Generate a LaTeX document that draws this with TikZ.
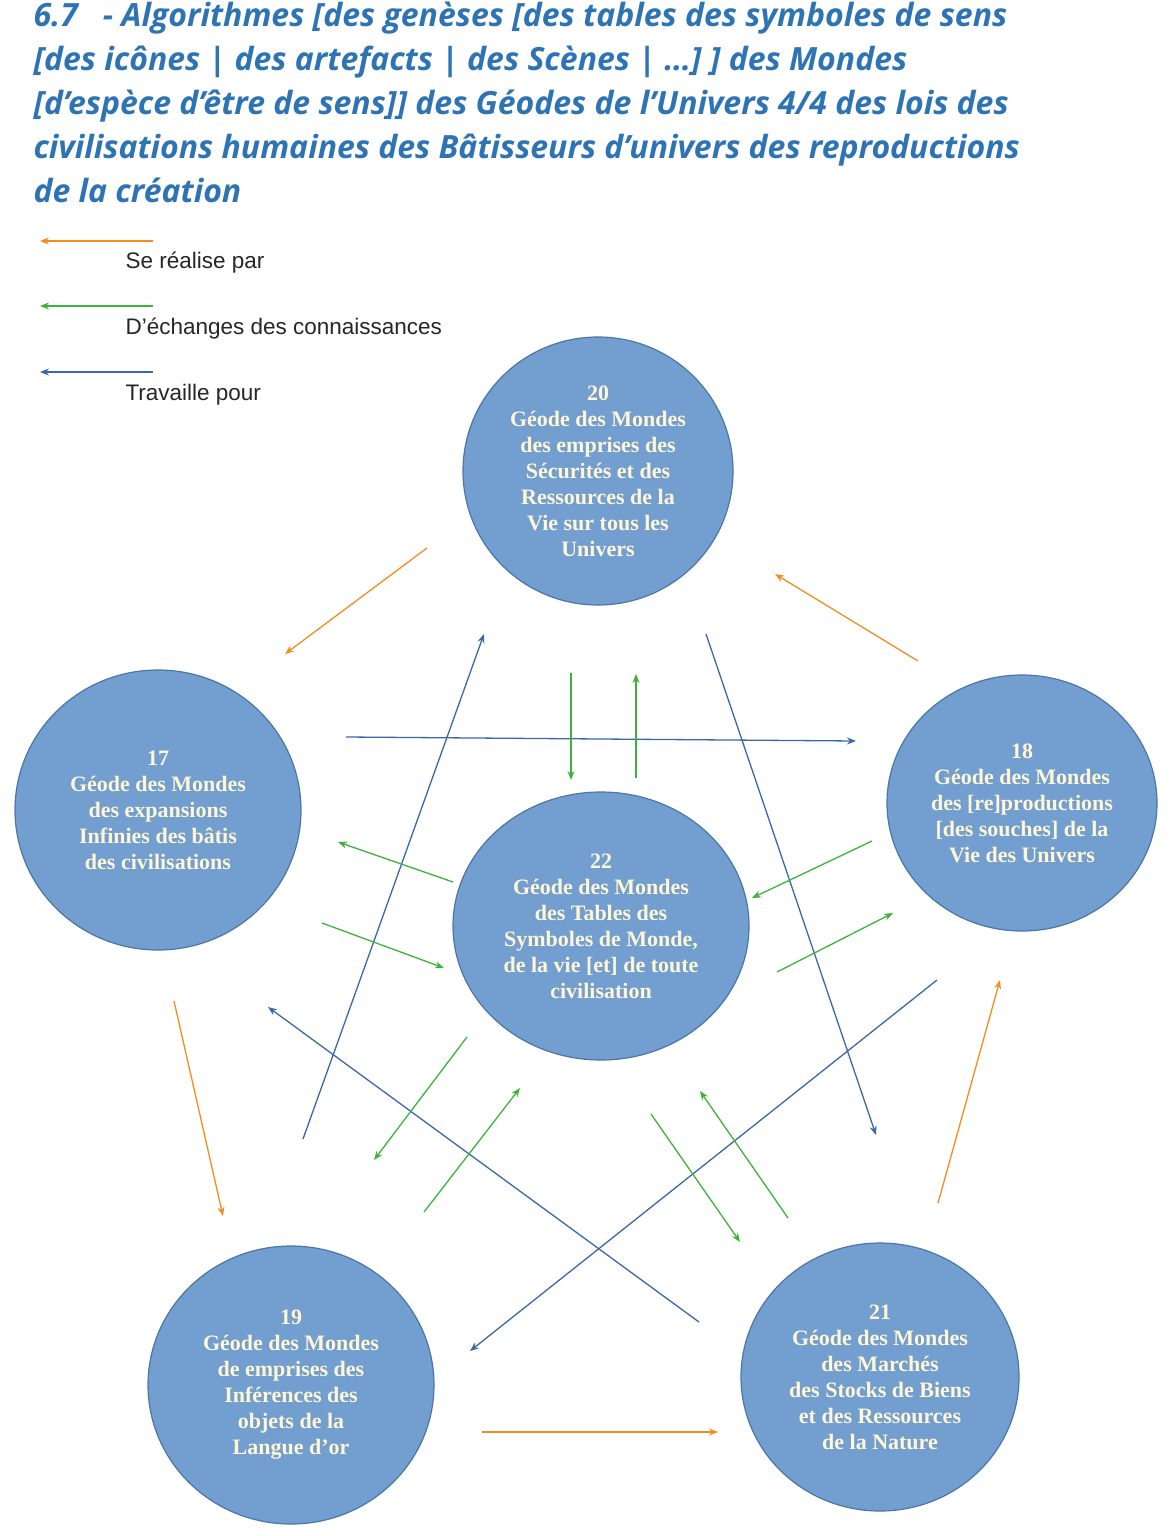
\documentclass[tikz,border=0pt]{standalone}
\usepackage{fontspec}
\setmainfont{Liberation Serif}
\setsansfont{Liberation Sans}
\newfontfamily\titlefont{Open Sans}
\usetikzlibrary{shapes.geometric,arrows.meta}
\definecolor{ttl}{HTML}{2E74B5}
\definecolor{cfill}{HTML}{729FCF}
\definecolor{cdraw}{HTML}{4A76A8}
\definecolor{ctext}{HTML}{FFF6D5}
\definecolor{aor}{HTML}{F58C1E}
\definecolor{agr}{HTML}{3CB43C}
\definecolor{abl}{HTML}{3A68A8}
\begin{document}
\begin{tikzpicture}[x=1pt,y=-1pt,
  geo/.style={ellipse,fill=cfill,draw=cdraw,line width=1.2pt,text=ctext,align=center,
    font=\fontsize{22}{26}\selectfont\bfseries,inner sep=0pt},
  arr/.style={line width=1.3pt,-{Stealth[length=9pt,width=7pt]}},
  ora/.style={arr,aor}, gre/.style={arr,agr}, blu/.style={arr,abl},
  leg/.style={anchor=west,font=\sffamily\fontsize{22.5}{25}\selectfont,text=black!85}]
\useasboundingbox (0,0) rectangle (1173,1536);
\node[anchor=north west,text=ttl,align=left,font=\titlefont\fontsize{32}{44}\selectfont\bfseries\itshape] (title) at (30,-2)
{6.7~~ - Algorithmes [des genèses [des tables des symboles de sens\\
{}[des icônes | des artefacts | des Scènes | …] ] des Mondes\\
{}[d’espèce d’être de sens]] des Géodes de l’Univers 4/4 des lois des\\
civilisations humaines des Bâtisseurs d’univers des reproductions\\
de la création};
% legend
\coordinate (l1a) at (153,241); \coordinate (l1b) at (40,241);
\coordinate (l2a) at (153,306); \coordinate (l2b) at (40,306);
\coordinate (l3a) at (153,372); \coordinate (l3b) at (40,372);
\draw[ora] (l1a) -- (l1b); \draw[gre] (l2a) -- (l2b); \draw[blu] (l3a) -- (l3b);
\node[leg] (t1) at (122,263) {Se réalise par};
\node[leg] (t2) at (122,329) {D’échanges des connaissances};
\node[leg] (t3) at (122,395) {Travaille pour};
% circles
\node[geo,minimum width=270pt,minimum height=268pt] (g20) at (598,471) {20\\Géode des Mondes\\des emprises des\\Sécurités et des\\Ressources de la\\Vie sur tous les\\Univers};
\node[geo,minimum width=286pt,minimum height=280pt] (g17) at (158,810) {17\\Géode des Mondes\\des expansions\\Infinies des bâtis\\des civilisations};
\node[geo,minimum width=270pt,minimum height=256pt] (g18) at (1022,803) {18\\Géode des Mondes\\des {}[re]productions\\{}[des souches] de la\\Vie des Univers};
\node[geo,minimum width=296pt,minimum height=268pt] (g22) at (601,926) {22\\Géode des Mondes\\des Tables des\\Symboles de Monde,\\de la vie {}[et] de toute\\civilisation};
\node[geo,minimum width=286pt,minimum height=278pt] (g19) at (291,1385) {19\\Géode des Mondes\\de emprises des\\Inférences des\\objets de la\\Langue d’or};
\node[geo,minimum width=278pt,minimum height=268pt] (g21) at (880,1377) {21\\Géode des Mondes\\des Marchés\\des Stocks de Biens\\et des Ressources\\de la Nature};
% arrow endpoints
\foreach \n/\x/\y in {o1a/427/548,o1b/285/654,o2a/918/661,o2b/775/574,o3a/174/1001,o3b/223/1216,
 o4a/938/1203,o4b/1000/980,o5a/482/1432,o5b/718/1432,
 b1a/346/737,b1b/856/741,b2a/303/1139,b2b/484/634,b3a/706/634,b3b/876/1135,b4a/937/980,b4b/470/1351,b5a/699/1322,b5b/268/1007,
 c1a/571/673,c1b/571/780,c2a/636/778,c2b/636/674,c3a/453/882,c3b/338/842,c4a/322/923,c4b/444/968,
 c5a/872/841,c5b/752/898,c6a/777/972,c6b/893/913,c7a/467/1037,c7b/374/1160,c8a/424/1212,c8b/520/1088,
 c9a/651/1114,c9b/740/1242,c10a/788/1218,c10b/700/1091}
 {\coordinate (\n) at (\x,\y);}
\foreach \i in {1,...,5} {\draw[ora] (o\i a) -- (o\i b); \draw[blu] (b\i a) -- (b\i b);}
\foreach \i in {1,...,10} {\draw[gre] (c\i a) -- (c\i b);}
\end{tikzpicture}
\end{document}
